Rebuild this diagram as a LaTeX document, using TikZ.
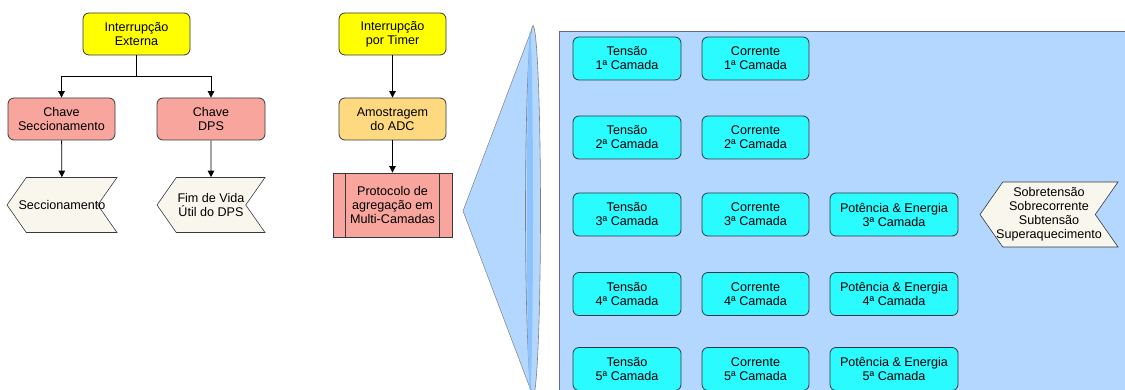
\documentclass[tikz,border=0pt]{standalone}
\usepackage{fontspec}
\setmainfont{Liberation Sans}
\usetikzlibrary{arrows.meta,shapes.symbols}

\definecolor{amarelo}{HTML}{FFFF00}
\definecolor{rosa}{HTML}{F8A59E}
\definecolor{laranja}{HTML}{FFD97F}
\definecolor{ciano}{HTML}{29FBFF}
\definecolor{creme}{HTML}{F9F7ED}
\definecolor{azul}{HTML}{B3D7FF}
\definecolor{azulesc}{HTML}{8CC2FF}
\definecolor{borda}{HTML}{36393D}

\begin{document}
\begin{tikzpicture}[x=1pt, y=-1pt,
    txt/.style={font=\fontsize{12.6}{14}\selectfont, align=center, inner sep=1pt},
    box/.style={txt, draw=borda, line width=0.8pt, rounded corners=6pt, minimum width=107pt, minimum height=42pt},
    camada/.style={box, fill=ciano, minimum height=43pt},
    disp/.style={txt, inner xsep=-20pt, draw=borda, line width=0.6pt, fill=creme, signal, signal to=west, signal from=east, signal pointer angle=110},
    arr/.style={-{Triangle[length=6.5pt,width=6.5pt]}, line width=0.8pt}]
    \useasboundingbox (0,0) rectangle (1125,390);
    \clip (0,0) rectangle (1125,390);

    % Zoom area
    \draw[fill=azul, draw=gray!80!blue, line width=0.6pt] (559,31) rectangle (1140,400);
    \filldraw[fill=azul, draw=gray, line width=0.5pt] (463,211) -- (533,26) -- (533,396) -- cycle;
    \filldraw[fill=azul, draw=gray, line width=0.6pt] (533,211) ellipse [x radius=7.5, y radius=185];
    \fill[azulesc] (530,211) ellipse [x radius=3, y radius=180];

    % Nodes
    \node (intext) [box, fill=amarelo] at (136.5,34) {Interrupção\\Externa};
    \node (chsec) [box, fill=rosa] at (61.5,119) {Chave\\Seccionamento};
    \node (chdps) [box, fill=rosa, minimum width=108pt] at (211,119) {Chave\\DPS};
    \node (secc) [disp, minimum width=110pt, minimum height=55pt] at (62,205) {Seccionamento};
    \node (fimvida) [disp, minimum width=108pt, minimum height=55pt] at (211,205) {Fim de Vida\\Útil do DPS};

    \node (inttimer) [box, fill=amarelo] at (392.5,34) {Interrupção\\por Timer};
    \node (adc) [box, fill=laranja] at (392.5,119) {Amostragem\\do ADC};
    \node (proto) [box, fill=rosa, rounded corners=0pt, minimum width=119pt, minimum height=64pt] at (392.5,205) {Protocolo de\\agregação em\\Multi-Camadas};
    \draw[borda, line width=0.8pt] ([xshift=13pt]proto.north west) -- ([xshift=13pt]proto.south west);
    \draw[borda, line width=0.8pt] ([xshift=-13pt]proto.north east) -- ([xshift=-13pt]proto.south east);

    \foreach \n/\y in {1/58.5, 2/137.5, 3/214.5, 4/294, 5/369} {
        \node (ten\n) [camada, minimum width=108pt] at (627,\y) {Tensão\\\n{}ª Camada};
        \node (cor\n) [camada] at (755.5,\y) {Corrente\\\n{}ª Camada};
    }
    \foreach \n/\y in {3/214.5, 4/294, 5/369} {
        \node (pot\n) [camada, minimum width=128pt] at (894,\y) {Potência \& Energia\\\n{}ª Camada};
    }

    \node (alarme) [disp, minimum width=138pt, minimum height=65pt] at (1049,214.5) {Sobretensão\\Sobrecorrente\\Subtensão\\Superaquecimento};

    % Edges
    \draw[arr] (intext.south) -- ++(0,21) -| (chsec);
    \draw[arr] (intext.south) -- ++(0,21) -| (chdps);
    \draw[arr] (chsec) -- (secc);
    \draw[arr] (chdps) -- (fimvida);
    \draw[arr] (inttimer) -- (adc);
    \draw[arr] (adc) -- (proto);
\end{tikzpicture}
\end{document}
